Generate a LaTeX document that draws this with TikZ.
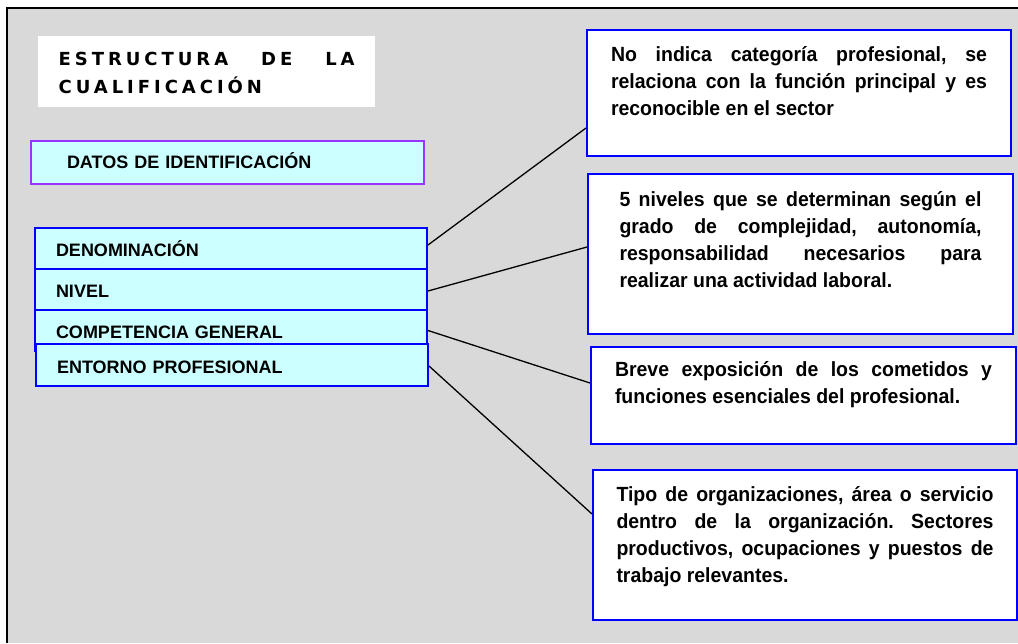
\documentclass[tikz,border=0pt]{standalone}
\usepackage{fontspec}
\setmainfont{Liberation Sans}
\newfontfamily\titlefont[LetterSpace=22]{DejaVu Sans}
\newfontfamily\notefont[FakeStretch=0.95]{Liberation Sans}
\usetikzlibrary{calc}
\definecolor{boxblue}{RGB}{0,0,255}
\definecolor{idviolet}{RGB}{153,51,255}
\definecolor{lightcyan}{RGB}{204,255,255}
\definecolor{panelgray}{RGB}{217,217,217}
\frenchspacing

\begin{document}
\begin{tikzpicture}[x=1pt, y=-1pt,
  field/.style={draw=boxblue, line width=2pt, fill=lightcyan, anchor=north west, minimum height=41pt, text width=350pt, inner xsep=21pt, inner ysep=0pt, align=left, text height=16pt, text depth=0pt, font=\fontsize{18}{22}\selectfont\bfseries},
  note/.style={draw=boxblue, line width=2pt, fill=white, anchor=north west, inner ysep=0pt, align=justify, font=\notefont\fontsize{20.5}{27}\selectfont\bfseries},
  link/.style={line width=1.3pt, black},
]
  \useasboundingbox (0,0) rectangle (1018,643);
  \fill[panelgray] (7,8) rectangle (1018,643);
  \draw[line width=2.5pt] (7,643) -- (7,8) -- (1018,8);

  \node[fill=white, anchor=north west, text width=296pt, inner xsep=20.5pt, inner ysep=0pt, align=left, text height=29pt, text depth=42pt, font=\titlefont\fontsize{18}{28}\selectfont\bfseries] (title) at (38,36) {ESTRUCTURA\hfill DE\hfill LA\\CUALIFICACIÓN};

  \node[field, draw=idviolet, minimum height=43pt, text width=321pt, inner xsep=36pt, text height=12pt, text depth=1pt] (datos) at (30,140) {DATOS DE IDENTIFICACIÓN};

  \node[field] (denom) at (34,227) {DENOMINACIÓN};
  \node[field] (nivel) at (34,268) {NIVEL};
  \node[field] (comp) at (34,309) {COMPETENCIA GENERAL};
  \node[field, minimum height=42pt] (entorno) at (35,343) {ENTORNO PROFESIONAL};

  \node[note, text width=376pt, inner xsep=24pt, text height=31pt, text depth=95pt] (den) at (586,29)
    {No indica categoría profesional, se\linebreak relaciona con la función principal y es\linebreak reconocible en el sector};
  \node[note, text width=362pt, inner xsep=31.5pt, text height=32pt, text depth=128pt] (niv) at (587,173)
    {5 niveles que se determinan según el\linebreak grado de complejidad, autonomía,\linebreak responsabilidad necesarios para\linebreak realizar una actividad laboral.};
  \node[note, text width=377pt, inner xsep=24pt, text height=29pt, text depth=68pt] (com) at (590,346)
    {Breve exposición de los cometidos y\linebreak funciones esenciales del profesional.};
  \node[note, text width=377pt, inner xsep=23.5pt, text height=31pt, text depth=119pt] (ent) at (592,469)
    {Tipo de organizaciones, área o servicio\linebreak dentro de la organización. Sectores\linebreak productivos, ocupaciones y puestos de\linebreak trabajo relevantes.};

  \draw[link] ($(denom.east)+(0,-3.5)$) -- ($(den.west)+(0,35)$);
  \draw[link] ($(nivel.east)+(0,1.5)$) -- ($(niv.west)+(0,-7)$);
  \draw[link] (comp.east) -- ($(com.west)+(0,-12.5)$);
  \draw[link] ($(entorno.east)+(0,1)$) -- ($(ent.west)+(0,-31)$);
\end{tikzpicture}
\end{document}
